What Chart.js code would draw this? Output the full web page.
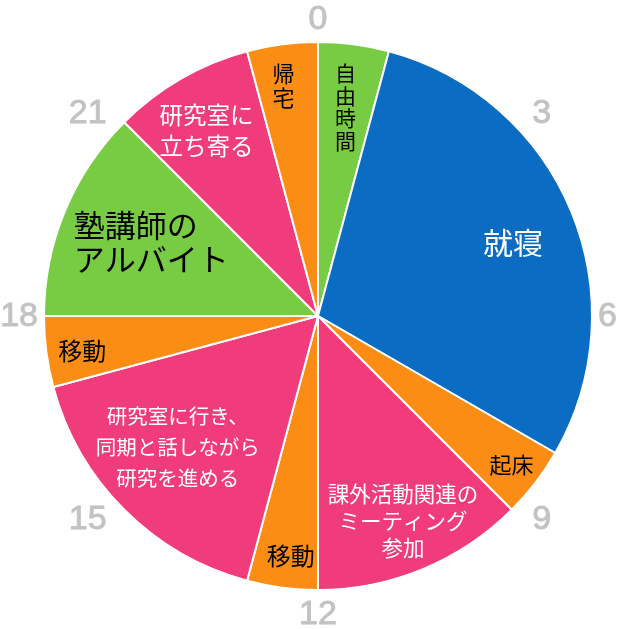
<!DOCTYPE html>
<html>
<head>
<meta charset="utf-8">
<script src="https://cdn.jsdelivr.net/npm/chart.js@4"></script>
<style>
  html, body { margin: 0; padding: 0; background: #fff; }
  #wrap { width: 619px; height: 629px; }
</style>
</head>
<body>
<div id="wrap"><canvas id="chart" width="619" height="629"></canvas></div>
<script>
// 1日の過ごし方 (0時から時計回り、単位: 時間)
const activities = ['自由時間', '就寝', '起床', '課外活動関連のミーティング参加', '移動',
                    '研究室に行き、同期と話しながら研究を進める', '移動', '塾講師のアルバイト', '研究室に立ち寄る', '帰宅'];
const hours = [1, 7, 1, 3, 1, 4, 1, 3, 2, 1];
const hourTicks = ['0', '3', '6', '9', '12', '15', '18', '21'];

// 表示用の行分け
const labelLines = [
    ['自', '由', '時', '間'],
    ['就寝'],
    ['起床'],
    ['課外活動関連の', 'ミーティング', '参加'],
    ['移動'],
    ['研究室に行き、', '同期と話しながら', '研究を進める'],
    ['移動'],
    ['塾講師の', 'アルバイト'],
    ['研究室に', '立ち寄る'],
    ['帰', '宅']
];

const colors = {
    green: '#77cc44',
    blue: '#0b6cc4',
    orange: '#fb8c14',
    pink: '#f03c7a'
};
const sliceColors = [colors.green, colors.blue, colors.orange, colors.pink, colors.orange,
                     colors.pink, colors.orange, colors.green, colors.pink, colors.orange];

// ラベルの見た目 (半径比, フォントサイズ, 行間, 色, 揃え, 角度補正)
const labelStyle = [
    { r: 0.77, size: 21, lh: 22.5, color: '#000', dAng: 0 },
    { r: 0.76, size: 30, lh: 30, color: '#fff', dAng: 2 },
    { r: 0.89, size: 22, lh: 24, color: '#000', dAng: 0 },
    { r: 0.81, size: 21.5, lh: 27, color: '#fff', dAng: 0 },
    { r: 0.88, size: 24, lh: 26, color: '#000', dAng: -1 },
    { r: 0.70, size: 20.5, lh: 31, color: '#fff', dAng: 2 },
    { r: 0.87, size: 24, lh: 26, color: '#000', dAng: -1 },
    { r: 0.70, size: 31, lh: 34, color: '#000', dAng: 0, align: 'left', dx: -67 },
    { r: 0.79, size: 23.5, lh: 31, color: '#fff', dAng: -1 },
    { r: 0.85, size: 22, lh: 24, color: '#000', dAng: -1 }
];

const jpFont = '"Noto Sans CJK JP", "Noto Sans", sans-serif';

// スライス内のテキストと外周の時刻を描くプラグイン
const textPlugin = {
    id: 'sliceText',
    afterDatasetsDraw(chart) {
        const ctx = chart.ctx;
        const meta = chart.getDatasetMeta(0);
        const arc0 = meta.data[0];
        const cx = arc0.x, cy = arc0.y, R = arc0.outerRadius;

        ctx.save();
        ctx.textBaseline = 'middle';

        meta.data.forEach((arc, i) => {
            const st = labelStyle[i];
            const mid = (arc.startAngle + arc.endAngle) / 2 + st.dAng * Math.PI / 180;
            const x = cx + Math.cos(mid) * R * st.r;
            const y = cy + Math.sin(mid) * R * st.r;
            const lines = labelLines[i];
            ctx.font = st.size + 'px ' + jpFont;
            ctx.fillStyle = st.color;
            ctx.textAlign = st.align || 'center';
            const tx = x + (st.dx || 0);
            const top = y - (lines.length - 1) * st.lh / 2;
            lines.forEach((ln, j) => ctx.fillText(ln, tx, top + j * st.lh));
        });

        // 外周の時刻 (円から少し離して置く、斜めは横に寄せる)
        const total = hours.reduce((a, b) => a + b, 0);
        const fs = 34;
        ctx.font = fs + 'px "Liberation Sans", Arial, sans-serif';
        ctx.fillStyle = '#c3c3c3';
        ctx.strokeStyle = '#c3c3c3';
        ctx.lineWidth = 0.9;
        ctx.textAlign = 'center';
        ctx.textBaseline = 'alphabetic';
        const capH = fs * 0.716;
        hourTicks.forEach(t => {
            const ang = -Math.PI / 2 + (Number(t) / total) * Math.PI * 2;
            const c = Math.cos(ang), s = Math.sin(ang);
            const diag = Math.abs(2 * c * s);
            const w = ctx.measureText(t).width;
            const dx = c * (R + 6 + w / 2) + Math.sign(c) * diag * 19;
            const dy = s * (R + 11.5 + capH / 2) - Math.sign(s) * diag * 7.5;
            const x = cx + dx;
            const y = cy - 2 + dy + capH / 2;
            ctx.fillText(t, x, y);
            ctx.strokeText(t, x, y);
        });
        ctx.restore();
    }
};

new Chart(document.getElementById('chart'), {
    type: 'pie',
    data: {
        labels: activities,
        datasets: [{
            data: hours,
            backgroundColor: sliceColors,
            borderColor: '#ffffff',
            borderWidth: 2,
            hoverOffset: 0
        }]
    },
    options: {
        responsive: false,
        animation: false,
        layout: { padding: { left: 43, right: 26, top: 41, bottom: 38 } },
        plugins: {
            legend: { display: false },
            tooltip: { enabled: false }
        }
    },
    plugins: [textPlugin]
});
</script>
</body>
</html>
